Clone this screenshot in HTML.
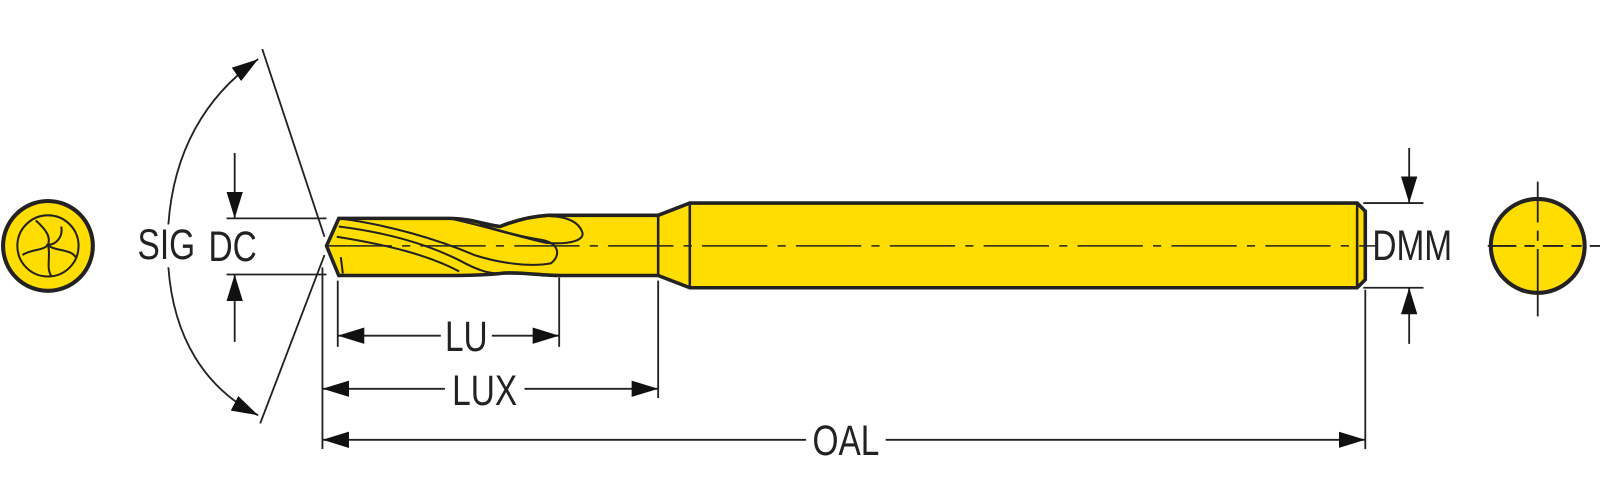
<!DOCTYPE html>
<html><head><style>
html,body{margin:0;padding:0;background:#fff;}
svg{display:block;}
text{font-family:"Liberation Sans",sans-serif;font-size:42px;fill:#222;}
</style></head><body>
<svg width="1600" height="499" viewBox="0 0 1600 499" xmlns="http://www.w3.org/2000/svg">
<defs>
<marker id="a" viewBox="0 0 26 16" refX="26" refY="8" markerWidth="26" markerHeight="16" markerUnits="userSpaceOnUse" orient="auto"><path d="M0,0 L26,8 L0,16 z" fill="#111"/></marker>
</defs>
<g transform="scale(1.0204)">
<g stroke="#222" fill="none">
<ellipse cx="47" cy="241" rx="44" ry="44" fill="#FFDD00" stroke-width="4"/>
<circle cx="47" cy="241" r="30" stroke-width="2"/>
<path d="M35 216 C45 225 50 232 47 240 C42 246 30 244 22 250 M60 222 C62 232 55 240 47 240 C52 246 70 244 74 252 M47 240 C50 250 45 262 50 270" stroke-width="2"/>

<path d="M332 214 L440 214 C460 214 475 220 490 222 C505 216 520 212 537 211 L645 211 L676 199 L1330 199 L1338 207 L1338 274 L1330 282 L676 282 L645 270 L549 270 C530 270 505 266 490 268 C470 270 455 270 440 270 L332 270 L320 241 Z" fill="#FFDD00" stroke-width="3.5"/>
<path d="M645 211 L645 270 M676 199 L676 282 M1330 199 L1330 282" stroke-width="2.5"/>
<path d="M332 222 C380 228 420 240 450 255 C470 266 480 268 490 268 M330 232 C380 240 420 250 450 266 M332 214 C380 220 430 235 465 250 C490 258 520 262 540 258 C550 250 548 238 530 235 C510 232 490 226 470 220 M440 214 C470 220 500 230 535 238 C560 240 575 235 570 226 C565 215 550 212 540 212 M334 252 L336 268" stroke-width="2"/>
<line x1="320" y1="241" x2="1350" y2="241" stroke-width="1.5" stroke-dasharray="64,10,8,10"/>

<line x1="257" y1="48" x2="318" y2="232" stroke-width="1.8"/>
<line x1="318" y1="250" x2="255" y2="415" stroke-width="1.8"/>
<path d="M165 220 C170 150 200 95 253 58" stroke-width="1.8" marker-end="url(#a)"/>
<path d="M165 262 C170 330 200 380 253 407" stroke-width="1.8" marker-end="url(#a)"/>

<line x1="222" y1="214" x2="320" y2="214" stroke-width="1.8"/>
<line x1="222" y1="269" x2="320" y2="269" stroke-width="1.8"/>
<line x1="230" y1="150" x2="230" y2="214" stroke-width="1.8" marker-end="url(#a)"/>
<line x1="230" y1="335" x2="230" y2="269" stroke-width="1.8" marker-end="url(#a)"/>

<line x1="316" y1="262" x2="316" y2="440" stroke-width="1.8"/>
<line x1="331" y1="275" x2="331" y2="340" stroke-width="1.8"/>
<line x1="548" y1="272" x2="548" y2="340" stroke-width="1.8"/>
<line x1="645" y1="275" x2="645" y2="390" stroke-width="1.8"/>
<line x1="1338" y1="284" x2="1338" y2="440" stroke-width="1.8"/>

<line x1="432" y1="329" x2="331" y2="329" stroke-width="1.8" marker-end="url(#a)"/>
<line x1="482" y1="329" x2="548" y2="329" stroke-width="1.8" marker-end="url(#a)"/>
<line x1="436" y1="381" x2="316" y2="381" stroke-width="1.8" marker-end="url(#a)"/>
<line x1="514" y1="381" x2="645" y2="381" stroke-width="1.8" marker-end="url(#a)"/>
<line x1="790" y1="431" x2="316" y2="431" stroke-width="1.8" marker-end="url(#a)"/>
<line x1="868" y1="431" x2="1338" y2="431" stroke-width="1.8" marker-end="url(#a)"/>

<line x1="1336" y1="199" x2="1395" y2="199" stroke-width="1.8"/>
<line x1="1336" y1="282" x2="1395" y2="282" stroke-width="1.8"/>
<line x1="1381" y1="145" x2="1381" y2="199" stroke-width="1.8" marker-end="url(#a)"/>
<line x1="1381" y1="337" x2="1381" y2="282" stroke-width="1.8" marker-end="url(#a)"/>

<circle cx="1507" cy="241" r="46" fill="#FFDD00" stroke-width="4"/>
<line x1="1507" y1="178" x2="1507" y2="310" stroke-width="1.8" stroke-dasharray="40,8,10,8,200"/>
<line x1="1458" y1="241" x2="1570" y2="241" stroke-width="1.8" stroke-dasharray="28,8,10,8,20,8,10,8,200"/>
</g>
<g>
<text x="163" y="254" text-anchor="middle" transform="translate(163 0) scale(0.78 1) translate(-163 0)">SIG</text>
<text x="228" y="256" text-anchor="middle" transform="translate(228 0) scale(0.78 1) translate(-228 0)">DC</text>
<text x="457" y="344" text-anchor="middle" transform="translate(457 0) scale(0.78 1) translate(-457 0)">LU</text>
<text x="475" y="397" text-anchor="middle" transform="translate(475 0) scale(0.78 1) translate(-475 0)">LUX</text>
<text x="829" y="446" text-anchor="middle" transform="translate(829 0) scale(0.78 1) translate(-829 0)">OAL</text>
<text x="1384" y="255" text-anchor="middle" transform="translate(1384 0) scale(0.78 1) translate(-1384 0)">DMM</text>
</g>
</g>
</svg>
</body></html>
